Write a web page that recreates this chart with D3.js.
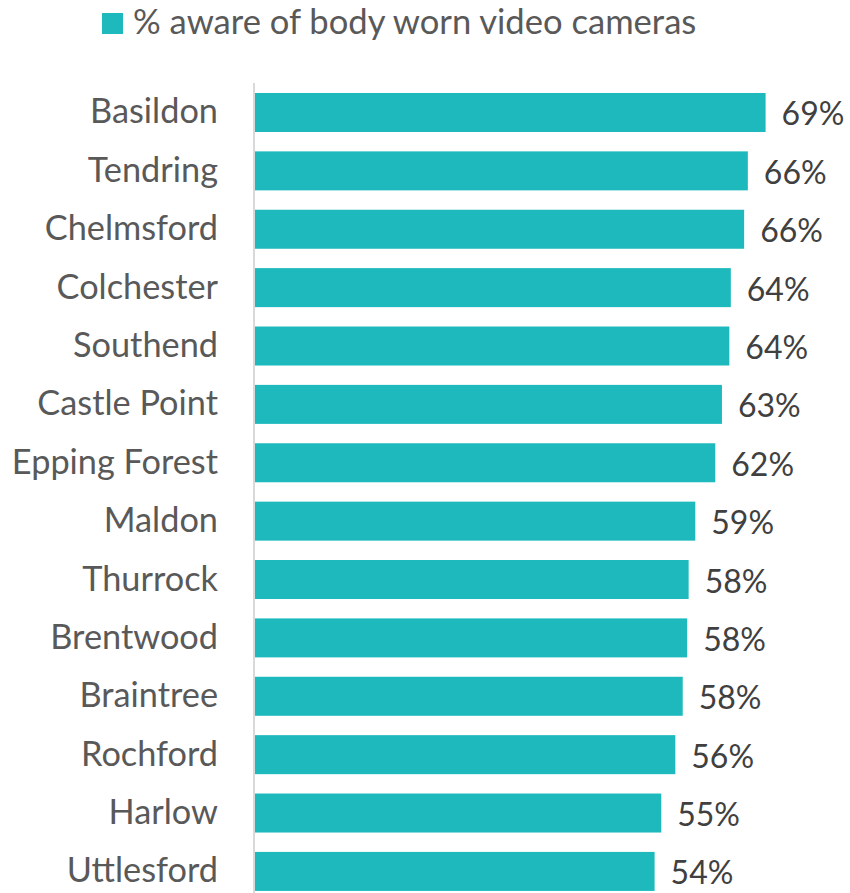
<!DOCTYPE html>
<html>
<head>
<meta charset="utf-8">
<script src="https://cdn.jsdelivr.net/npm/d3@7"></script>
<style>
  body { margin: 0; background: #fff; }
  svg text { font-family: Lato, "Open Sans", sans-serif; }
</style>
</head>
<body>
<svg id="chart"></svg>
<script>
const districts = ["Basildon", "Tendring", "Chelmsford", "Colchester", "Southend", "Castle Point",
  "Epping Forest", "Maldon", "Thurrock", "Brentwood", "Braintree", "Rochford", "Harlow", "Uttlesford"];
// bar lengths (percent)
const aware = [69.0, 66.6, 66.1, 64.3, 64.1, 63.1, 62.2, 59.5, 58.6, 58.4, 57.8, 56.8, 54.9, 54.0];
// labels as printed on the chart
const awareLabels = ["69%", "66%", "66%", "64%", "64%", "63%", "62%", "59%", "58%", "58%", "58%", "56%", "55%", "54%"];
const seriesName = "% aware of body worn video cameras";

const width = 850, height = 893;
const barColor = "#1DB9BC";

const svg = d3.select("#chart")
  .attr("width", width)
  .attr("height", height);

const rows = districts.map((d, i) => ({ name: d, value: aware[i], label: awareLabels[i] }));

const x = d3.scaleLinear()
  .domain([0, 100])
  .range([255, 255 + 740]);

const y = d3.scaleBand()
  .domain(districts)
  .range([83.3, 900.6])
  .paddingInner(0.332)
  .paddingOuter(0.166);

// legend
const legend = svg.append("g");
legend.append("rect")
  .attr("x", 102).attr("y", 13)
  .attr("width", 21).attr("height", 21)
  .attr("fill", barColor);
legend.append("text")
  .attr("x", 133).attr("y", 34)
  .attr("font-size", 34.6)
  .attr("fill", "#595959")
  .text(seriesName);

// bars
svg.append("g")
  .selectAll("rect")
  .data(rows)
  .join("rect")
  .attr("x", x(0))
  .attr("y", d => y(d.name))
  .attr("width", d => x(d.value) - x(0))
  .attr("height", y.bandwidth())
  .attr("fill", barColor);

// category axis line
svg.append("line")
  .attr("x1", x(0) - 1).attr("x2", x(0) - 1)
  .attr("y1", 83).attr("y2", height)
  .attr("stroke", "#d9d9d9")
  .attr("stroke-width", 2);

// category labels
svg.append("g")
  .selectAll("text")
  .data(rows)
  .join("text")
  .attr("x", 218)
  .attr("y", d => y(d.name) + y.bandwidth() / 2 + 11)
  .attr("text-anchor", "end")
  .attr("font-size", 34.3)
  .attr("fill", "#595959")
  .text(d => d.name);

// value labels
svg.append("g")
  .selectAll("text")
  .data(rows)
  .join("text")
  .attr("x", d => x(d.value) + 16)
  .attr("y", d => y(d.name) + y.bandwidth() / 2 + 13)
  .attr("font-size", 32)
  .attr("fill", "#404040")
  .text(d => d.label);
</script>
</body>
</html>
